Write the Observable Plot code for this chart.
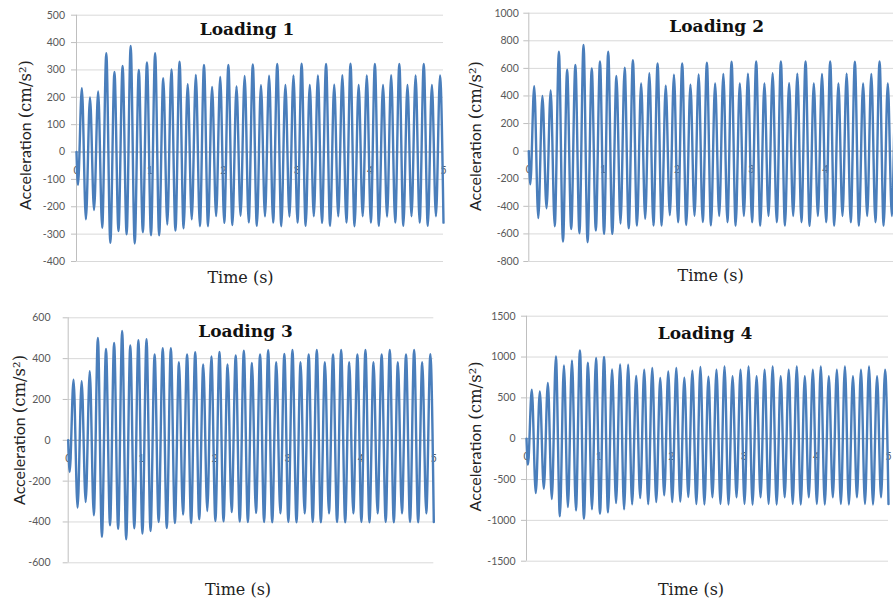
<!DOCTYPE html>
<html><head><meta charset="utf-8">
<script src="https://cdn.jsdelivr.net/npm/d3@7"></script>
<script src="https://cdn.jsdelivr.net/npm/@observablehq/plot@0.6"></script>
<style>
html,body{margin:0;padding:0;background:#fff;overflow:hidden;}
#wrap{position:relative;width:893px;height:600px;overflow:hidden;background:#fff;}
.panel{position:absolute;}
.panel svg{overflow:visible;max-width:none !important;}
</style></head><body><div id="wrap"></div>
<script>
// ---- shared timing of the extrema (s) ----
const dipTime = 0.02;
const peakTime = [0.073,0.184,0.295,0.406,0.517,0.628,0.738,0.849,0.960,1.071,1.182,1.293,1.404,1.515,1.626,1.737,1.847,1.958,2.069,2.180,2.291,2.402,2.513,2.624,2.735,2.846,2.956,3.067,3.178,3.289,3.400,3.511,3.622,3.733,3.844,3.955,4.065,4.176,4.287,4.398,4.509,4.620,4.731,4.842,4.953];
const troughTime = [0.128,0.239,0.350,0.461,0.572,0.683,0.793,0.904,1.015,1.126,1.237,1.348,1.459,1.570,1.681,1.792,1.902,2.013,2.124,2.235,2.346,2.457,2.568,2.679,2.790,2.901,3.011,3.122,3.233,3.344,3.455,3.566,3.677,3.788,3.899,4.010,4.120,4.231,4.342,4.453,4.564,4.675,4.786,4.897,5.000];

// ---- Loading 1 (cm/s^2) ----
const loading1Dip = -120;
const loading1Peaks = [233,199,221,361,293,315,388,300,327,361,270,302,330,248,282,318,238,274,318,240,278,320,244,279,322,245,280,323,245,280,322,246,281,323,245,280,322,245,281,322,245,280,322,245,280];
const loading1Troughs = [-246,-212,-277,-332,-289,-301,-334,-293,-304,-304,-265,-287,-279,-246,-271,-271,-234,-259,-267,-233,-257,-270,-235,-258,-271,-236,-258,-270,-235,-259,-270,-235,-258,-271,-235,-258,-270,-236,-258,-270,-235,-258,-270,-235,-258];

// ---- Loading 2 ----
const loading2Dip = -240;
const loading2Peaks = [470,400,440,720,590,625,770,600,650,720,545,605,660,490,565,635,475,555,635,482,556,642,490,560,648,490,562,650,490,565,650,492,562,650,490,560,650,490,562,648,490,560,650,490,560];
const loading2Troughs = [-485,-415,-545,-655,-565,-595,-660,-575,-600,-600,-525,-560,-540,-490,-540,-540,-465,-515,-535,-468,-514,-538,-470,-515,-540,-470,-516,-540,-470,-515,-540,-470,-515,-542,-470,-515,-540,-470,-516,-540,-470,-515,-540,-470,-515];

// ---- Loading 3 ----
const loading3Dip = -155;
const loading3Peaks = [297,289,338,501,447,477,535,464,490,495,421,451,451,382,420,431,372,411,433,372,415,439,379,421,441,382,423,442,382,421,442,382,420,443,382,420,443,382,420,443,382,420,443,382,422];
const loading3Troughs = [-330,-302,-367,-473,-416,-434,-485,-431,-457,-444,-400,-430,-405,-364,-405,-387,-346,-395,-397,-352,-398,-400,-356,-400,-402,-358,-400,-402,-358,-400,-402,-358,-401,-402,-358,-400,-402,-358,-400,-402,-358,-400,-402,-358,-400];

// ---- Loading 4 ----
const loading4Dip = -318;
const loading4Peaks = [600,580,682,1008,898,959,1082,931,988,1000,849,910,906,767,845,865,743,824,865,747,833,878,759,845,886,765,845,886,765,845,886,765,845,886,765,845,886,765,845,886,765,845,886,765,845];
const loading4Troughs = [-665,-612,-739,-951,-837,-878,-980,-865,-918,-902,-788,-865,-804,-727,-804,-776,-694,-776,-771,-715,-800,-805,-718,-800,-805,-718,-800,-806,-718,-800,-805,-718,-800,-805,-718,-800,-805,-718,-800,-805,-718,-800,-805,-718,-800];

// ---- axes ----
const xTicks = [0,1,2,3,4,5];
const xTicksCropped = [0,1,2,3,4]; // panel 2 is cut at the picture's right edge
const yTicks1 = [-400,-300,-200,-100,0,100,200,300,400,500];
const yTicks2 = [-800,-600,-400,-200,0,200,400,600,800,1000];
const yTicks3 = [-600,-400,-200,0,200,400,600];
const yTicks4 = [-1500,-1000,-500,0,500,1000,1500];
const titles = ["Loading 1","Loading 2","Loading 3","Loading 4"];
const xLabel = "Time (s)";
const yLabelA = "Acceleration";
const yLabelB = "(cm/s²)";

function series(dip, peaks, troughs) {
  const rows = [{t: 0, a: 0}, {t: dipTime, a: dip}];
  peaks.forEach((p, i) => {
    rows.push({t: peakTime[i], a: p});
    rows.push({t: troughTime[i], a: troughs[i]});
  });
  return rows;
}

const panels = [
  {title: titles[0], rows: series(loading1Dip, loading1Peaks, loading1Troughs), ticks: yTicks1, xt: xTicks,
   left: 0, top: 0, width: 445, height: 290, mL: 76, mR: 2, mT: 14.7, mB: 29, pad: 6.5,
   xdy: 19, tdx: -13, tdy: 14, ldx: -19.5, ldy: 16, ydx: -51, ydy: -16},
  {title: titles[1], rows: series(loading2Dip, loading2Peaks, loading2Troughs), ticks: yTicks2, xt: xTicksCropped,
   left: 445, top: 0, width: 460, height: 290, mL: 83.3, mR: 6, mT: 12.7, mB: 29, pad: 5,
   xdy: 18, tdx: 2.5, tdy: 13.3, ldx: -3.5, ldy: 14, ydx: -53, ydy: -14},
  {title: titles[2], rows: series(loading3Dip, loading3Peaks, loading3Troughs), ticks: yTicks3, xt: xTicks,
   left: 0, top: 300, width: 445, height: 300, mL: 67.7, mR: 11.7, mT: 17.3, mB: 37.7, pad: 12.7,
   xdy: 18, tdx: -5.5, tdy: 13.7, ldx: -13, ldy: 26.7, ydx: -48, ydy: -23},
  {title: titles[3], rows: series(loading4Dip, loading4Peaks, loading4Troughs), ticks: yTicks4, xt: xTicks,
   left: 445, top: 300, width: 448, height: 300, mL: 81, mR: 5, mT: 15.7, mB: 39.3, pad: 6,
   xdy: 18, tdx: -2.5, tdy: 17.8, ldx: -16.5, ldy: 28.3, ydx: -51, ydy: -15}
];

const wrap = document.getElementById("wrap");
const serif = "'DejaVu Serif', serif";
const sans = "Lato, 'Liberation Sans', sans-serif";

for (const p of panels) {
  const ticks = p.ticks;
  const chart = Plot.plot({
    width: p.width, height: p.height,
    marginLeft: p.mL, marginRight: p.mR, marginTop: p.mT, marginBottom: p.mB,
    x: {domain: [0, 5], axis: null},
    y: {domain: [ticks[0], ticks[ticks.length - 1]], axis: null},
    style: {background: "transparent", fontFamily: sans, color: "#595959", maxWidth: "none"},
    marks: [
      Plot.ruleY(ticks, {stroke: "#d9d9d9", strokeWidth: 1}),
      Plot.ruleX([0], {stroke: "#bfbfbf", strokeWidth: 1}),
      Plot.axisY(ticks, {tickSize: 5, tickPadding: p.pad, stroke: "#bfbfbf", fill: "#595959",
        fontSize: 10.5, fontFamily: sans, label: null, tickFormat: d => String(d)}),
      Plot.text(p.xt, {x: d => d, y: 0, dy: p.xdy, text: d => String(d), fill: "#595959",
        fontSize: 10.5, fontFamily: sans}),
      Plot.ruleY([0], {stroke: "#a6a6a6", strokeWidth: 1}),
      Plot.line(p.rows, {x: "t", y: "a", stroke: "#4a7ebb", strokeWidth: 2.4, curve: "monotone-x"}),
      Plot.text([p.title], {frameAnchor: "top", lineAnchor: "middle", textAnchor: "middle",
        dx: p.tdx, dy: p.tdy, fontWeight: "bold", fontFamily: serif, fontSize: 17, fill: "#111"}),
      Plot.text([xLabel], {frameAnchor: "bottom", lineAnchor: "middle", textAnchor: "middle",
        dx: p.ldx, dy: p.ldy, fontFamily: serif, fontSize: 16, fill: "#222"}),
      Plot.text([yLabelA], {frameAnchor: "left", lineAnchor: "middle", textAnchor: "end", rotate: -90,
        dx: p.ydx, dy: p.ydy, fontFamily: sans, fontSize: 16, fill: "#222"}),
      Plot.text([yLabelB], {frameAnchor: "left", lineAnchor: "middle", textAnchor: "start", rotate: -90,
        dx: p.ydx, dy: p.ydy - 4, fontFamily: serif, fontSize: 16.5, fill: "#222"})
    ]
  });
  const div = document.createElement("div");
  div.className = "panel";
  div.style.left = p.left + "px";
  div.style.top = p.top + "px";
  div.style.width = p.width + "px";
  div.style.height = p.height + "px";
  div.appendChild(chart);
  wrap.appendChild(div);
}
</script>
</body></html>
